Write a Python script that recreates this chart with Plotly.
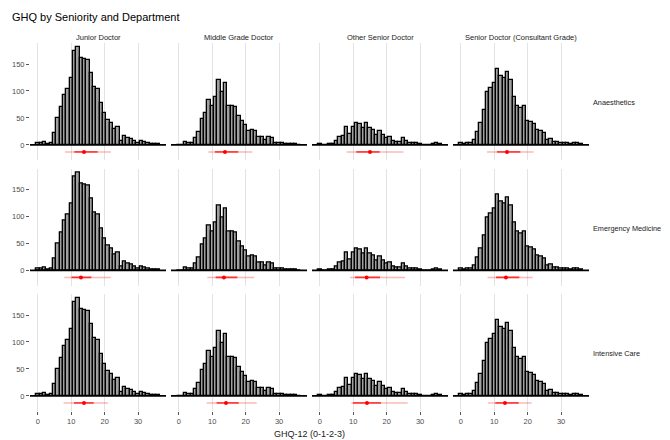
import plotly.graph_objects as go

# ---------------- data ----------------
bins = list(range(37))  # GHQ-12 likert score 0..36

seniorities = ["Junior Doctor", "Middle Grade Doctor", "Other Senior Doctor",
               "Senior Doctor (Consultant Grade)"]
departments = ["Anaesthetics", "Emergency Medicine", "Intensive Care"]

junior_counts = [3, 3, 5, 2, 3, 22, 50, 70, 93, 103, 125, 175, 182, 162, 160, 157,
                 134, 107, 104, 78, 60, 47, 40, 30, 34, 8, 17, 13, 11, 8, 4, 8,
                 6, 3, 2, 2, 2]
middle_counts = [0, 0, 5, 3, 4, 12, 24, 48, 59, 84, 73, 89, 120, 98, 114, 72,
                 72, 70, 54, 44, 37, 26, 27, 26, 14, 15, 9, 14, 12, 4, 4, 3,
                 1, 2, 2, 2, 0]
other_counts = [2, 0, 0, 1, 2, 8, 14, 16, 33, 21, 33, 41, 39, 32, 41, 31,
                28, 19, 25, 19, 13, 14, 7, 6, 6, 13, 7, 4, 4, 4, 1, 0,
                0, 0, 1, 4, 1]
senior_counts = [3, 1, 3, 4, 10, 24, 40, 64, 98, 105, 115, 140, 128, 124, 136, 120,
                 89, 73, 68, 73, 45, 42, 39, 28, 26, 23, 9, 11, 6, 5, 3, 3,
                 4, 2, 3, 3, 2]
counts_by_seniority = [junior_counts, middle_counts, other_counts, senior_counts]

# summary per department (rows) and seniority (cols): [whisker_lo, q1, median, q3, whisker_hi]
summary_anaesthetics = [[8.1, 10.9, 13.8, 17.9, 21.9],
                        [8.8, 10.8, 13.8, 17.8, 22.0],
                        [8.0, 10.9, 15.0, 17.9, 25.0],
                        [7.8, 10.8, 13.8, 17.8, 21.8]]
summary_emergency = [[7.9, 10.1, 12.9, 16.0, 21.8],
                     [8.5, 11.0, 13.5, 17.5, 22.5],
                     [9.0, 10.5, 14.0, 18.0, 25.5],
                     [8.0, 10.5, 13.5, 17.5, 21.5]]
summary_intensive = [[7.7, 10.8, 13.8, 16.7, 21.0],
                     [8.3, 11.3, 14.1, 17.9, 23.3],
                     [9.4, 9.9, 14.1, 18.3, 26.3],
                     [8.1, 10.3, 13.2, 17.3, 21.2]]
summaries = [summary_anaesthetics, summary_emergency, summary_intensive]

x_ticks = [0, 10, 20, 30]
y_ticks = [0, 50, 100, 150]

# ---------------- layout helpers ----------------
OFF = 8  # page body margin
W, H = 670 - OFF, 440 - OFF
FONT = "Liberation Sans, Arial, sans-serif"
col_left = [30, 171, 312, 453]
col_w = 136
row_top = [43, 168.5, 294]
row_h = 117
summary_y = -13

def px_x(p):
    return (p - OFF) / W

def px_y(p):
    return 1 - (p - OFF) / H

fig = go.Figure()
shapes = []
annotations = []
layout_axes = {}

for r, dept in enumerate(departments):
    for c, sen in enumerate(seniorities):
        i = r * 4 + c + 1
        xa = "x" if i == 1 else f"x{i}"
        ya = "y" if i == 1 else f"y{i}"
        xname = "xaxis" if i == 1 else f"xaxis{i}"
        yname = "yaxis" if i == 1 else f"yaxis{i}"
        bottom = (r == len(departments) - 1)
        left = (c == 0)

        layout_axes[xname] = dict(
            domain=[px_x(col_left[c]), px_x(col_left[c] + col_w)],
            anchor=ya, range=[-2.35, 38.35], tickvals=x_ticks,
            showgrid=True, gridcolor="#e3e3e3", gridwidth=1, zeroline=False,
            showline=False, showticklabels=bottom,
            ticks="outside" if bottom else "", ticklen=3, tickcolor="#555555",
            tickfont=dict(size=7.5, color="#4d4d4d", family=FONT),
        )
        layout_axes[yname] = dict(
            domain=[px_y(row_top[r] + row_h), px_y(row_top[r])],
            anchor=xa, range=[-28, 189], tickvals=y_ticks,
            showgrid=False, zeroline=False, showline=False,
            showticklabels=left, ticks="outside" if left else "",
            ticklen=3, tickcolor="#555555",
            tickfont=dict(size=7.5, color="#4d4d4d", family=FONT),
        )

        fig.add_trace(go.Bar(
            x=bins, y=counts_by_seniority[c], width=1, xaxis=xa, yaxis=ya,
            marker=dict(color="#a0a0a0", line=dict(color="black", width=1.3)),
            showlegend=False, hoverinfo="skip"))

        lo, q1, med, q3, hi = summaries[r][c]
        fig.add_trace(go.Scatter(
            x=[lo, hi], y=[summary_y, summary_y], mode="lines", xaxis=xa, yaxis=ya,
            line=dict(color="rgba(255,0,0,0.28)", width=1.5),
            showlegend=False, hoverinfo="skip"))
        fig.add_trace(go.Scatter(
            x=[q1, q3], y=[summary_y, summary_y], mode="lines", xaxis=xa, yaxis=ya,
            line=dict(color="rgba(255,0,0,0.75)", width=1.6),
            showlegend=False, hoverinfo="skip"))
        fig.add_trace(go.Scatter(
            x=[med], y=[summary_y], mode="markers", xaxis=xa, yaxis=ya,
            marker=dict(color="red", size=4),
            showlegend=False, hoverinfo="skip"))

        shapes.append(dict(type="line", xref=f"{xa} domain", yref=ya,
                           x0=0, x1=1, y0=0, y1=0, layer="above",
                           line=dict(color="black", width=1.6)))

# column strips
for c, sen in enumerate(seniorities):
    annotations.append(dict(text=sen, x=px_x(col_left[c] + col_w / 2), y=px_y(37),
                            xref="paper", yref="paper", showarrow=False,
                            xanchor="center", yanchor="middle",
                            font=dict(size=7.5, color="#1a1a1a", family=FONT)))
# row strips
for r, dept in enumerate(departments):
    annotations.append(dict(text=dept, x=px_x(591), y=px_y(row_top[r] + row_h / 2 + 1),
                            xref="paper", yref="paper", showarrow=False,
                            xanchor="left", yanchor="middle",
                            font=dict(size=7.3, color="#1a1a1a", family=FONT)))
# x-axis title
annotations.append(dict(text="GHQ-12 (0-1-2-3)", x=px_x(309), y=px_y(434),
                        xref="paper", yref="paper", showarrow=False,
                        xanchor="center", yanchor="middle",
                        font=dict(size=9, color="#1a1a1a", family=FONT)))
# title
annotations.append(dict(text="GHQ by Seniority and Department", x=px_x(10), y=px_y(17),
                        xref="paper", yref="paper", showarrow=False,
                        xanchor="left", yanchor="middle",
                        font=dict(size=11, color="black", family=FONT)))

fig.update_layout(
    width=W, height=H, margin=dict(l=0, r=0, t=0, b=0),
    paper_bgcolor="white", plot_bgcolor="white",
    bargap=0, showlegend=False, shapes=shapes, annotations=annotations,
    font=dict(family=FONT),
    **layout_axes,
)

fig.write_html("out.html")
